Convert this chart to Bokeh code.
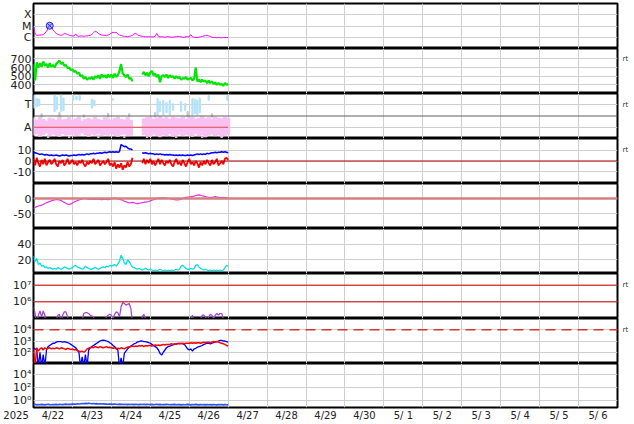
import numpy as np
from bokeh.plotting import figure
from bokeh.layouts import column
from bokeh.models import Range1d, FixedTicker, Span, LinearAxis, LogAxis
from bokeh.embed import file_html
from bokeh.resources import INLINE

nan = float("nan")

# ---------------- time axis ----------------
day_labels = ["4/22", "4/23", "4/24", "4/25", "4/26", "4/27", "4/28", "4/29",
              "4/30", "5/ 1", "5/ 2", "5/ 3", "5/ 4", "5/ 5", "5/ 6"]
year_label = "2025"
hours = list(range(121))          # hourly samples from 4/22 00UT
hours2 = list(range(0, 121, 2))   # 2-hourly samples

# ---------------- panel 1: X-ray flux (1e-6 W/m2 units) ----------------
xray_flux = [8, 2.0, 1.5, 1.5, 1.6, 1.6, 1.7, 2.2, 3.5, 6.0, 10.5, 8.0,
             4.5, 3.0, 2.2, 1.8, 1.6, 1.5, 1.6, 2.2, 2.0, 1.8, 1.5, 1.4,
             1.3, 1.3, 2.0, 1.3, 1.2, 1.3, 1.3, 1.2, 1.3, 1.3, 1.4, 1.5,
             1.8, 2.5, 3.5, 3.0, 2.2, 1.8, 1.6, 1.5, 1.5, 1.4, 1.6, 1.8,
             2.4, 2.8, 2.6, 2.8, 2.0, 1.6, 1.4, 1.3, 1.2, 1.2, 1.1, 1.2,
             1.3, 1.5, 2.0, 2.2, 1.7, 1.4, 1.3, 1.2, 1.2, 1.1, 1.1, 1.1,
             1.1, 1.1, 1.1, 1.2, 2.2, 1.2, 1.1, 1.1, 1.1, 1.0, 1.1, 1.1,
             1.1, 1.0, 1.0, 1.1, 1.1, 1.2, 1.1, 1.1, 1.0, 1.0, 1.1, 1.1,
             1.1, 1.7, 1.1, 1.0, 0.95, 0.95, 1.0, 1.1, 1.2, 1.3, 1.4, 1.5,
             1.3, 1.2, 1.0, 0.95, 0.95, 0.9, 0.95, 0.9, 0.9, 0.95, 0.95, 0.95, 0.95]
xray_ticks = [1, 10, 100]
xray_labels = ["C", "M", "X"]

# ---------------- panel 2: solar wind speed ----------------
sw_speed = [640, 450, 660, 600, 650, 610, 670, 620, 640, 600, 650, 610,
            630, 600, 640, 660, 680, 640, 660, 620, 630, 590, 600, 570,
            580, 550, 560, 530, 540, 500, 510, 470, 490, 460, 480, 470,
            490, 460, 500, 480, 510, 470, 520, 490, 510, 480, 520, 490,
            520, 480, 530, 490, 510, 560, 640, 530, 510, 490, 520, 470,
            480, 440, nan, nan, nan, nan, nan, 520, 550, 510, 540, 500,
            540, 560, 510, 530, 490, 520, 430, 500, 510, 490, 520, 480,
            510, 490, 500, 470, 500, 480, 490, 460, 480, 470, 490, 460,
            470, 480, 450, 470, 600, 440, 460, 430, 460, 440, 450, 420,
            450, 420, 440, 410, 430, 400, 420, 400, 410, 390, 420, 400, 410]
speed_ticks = [400, 500, 600, 700]

# ---------------- panel 3: IMF sector (A = away, T = toward) ----------------
sector_ticks = [1, 3]
sector_labels = ["A", "T"]
away_hi = [1.85, 1.6, 1.9, 1.7, 1.55, 1.8, 1.75, 1.6, 1.9, 1.65, 1.7, 1.85,
           1.6, 1.75, 1.9, 1.55, 1.7, 1.8, 1.65, 1.9, 1.7, 1.6, 1.85, 1.75,
           1.6, 1.8, 1.9, 1.7, 1.65, 1.85, 1.6, nan, nan, nan, 1.75, 1.85,
           1.9, 1.7, 1.8, 1.95, 1.75, 1.85, 1.7, 1.9, 1.8, 1.75, 1.9, 1.7,
           1.85, 1.9, 1.7, 1.8, 1.95, 1.75, 1.85, 1.7, 1.9, 1.8, 1.75, 1.9,
           1.8]
away_lo = [0.3, 0.45, 0.2, 0.35, 0.5, 0.25, 0.4, 0.3, 0.2, 0.45, 0.3, 0.35,
           0.4, 0.25, 0.3, 0.5, 0.35, 0.2, 0.4, 0.3, 0.45, 0.25, 0.35, 0.3,
           0.45, 0.3, 0.2, 0.35, 0.4, 0.25, 0.3, nan, nan, nan, 0.35, 0.25,
           0.2, 0.4, 0.3, 0.15, 0.35, 0.25, 0.45, 0.2, 0.3, 0.4, 0.25, 0.35,
           0.3, 0.2, 0.45, 0.25, 0.35, 0.15, 0.3, 0.4, 0.25, 0.35, 0.2, 0.3,
           0.35]
toward_t = [0.5, 2, 3.5, 13, 14.5, 17, 18.5, 24.5, 26.5, 28.5, 36, 37.5, 49,
            76.5, 78, 80, 82, 84, 86, 91, 93.5, 98, 99.5, 101, 102.5, 108, 119.5]
toward_lo = [2.7, 2.85, 2.9, 2.4, 2.6, 2.4, 2.5, 3.4, 3.45, 3.4, 2.7, 2.9, 3.4,
             2.1, 2.4, 2.1, 2.3, 2.1, 2.5, 2.4, 2.5, 2.1, 2.2, 2.1, 2.3, 3.4, 3.4]
toward_hi = [3.85, 3.55, 3.5, 3.85, 3.7, 3.85, 3.6, 3.8, 3.75, 3.8, 3.5, 3.4, 3.55,
             3.55, 3.3, 3.4, 3.2, 3.4, 3.1, 3.3, 3.1, 3.55, 3.5, 3.4, 3.6, 3.8, 3.8]
mixed_t = [5, 9, 16, 22, 31, 40, 46, 56, 59, 70, 75, 88, 95, 104, 110, 116]
mixed_lo = [1.9, 0.05, 1.95, 0.0, 1.9, 0.05, 1.9, 0.0, 1.95, 0.05, 1.9, 0.0, 1.95, 0.05, 1.9, 0.0]
mixed_hi = [2.2, 0.25, 2.3, 0.2, 2.1, 0.3, 2.25, 0.2, 2.2, 0.2, 2.3, 0.25, 2.4, 0.2, 2.2, 0.3]

# ---------------- panel 4: IMF Bt / Bz (nT) ----------------
imf_bt = [8, 7.5, 7, 6.5, 6, 6.5, 6, 5.5, 6, 5.5, 5, 5.5,
          5, 5, 5.5, 5, 4.5, 5, 5.5, 5, 5.5, 5, 4.5, 5,
          5, 5.5, 5, 5.5, 6, 5.5, 6, 5.5, 6, 6.5, 6, 6.5,
          6.5, 7, 6.5, 7, 7, 7.5, 7, 7.5, 8, 7.5, 8, 8.5,
          8, 8.5, 8, 8.5, 8, 8.5, 15, 14, 13, 13.5, 12, 11,
          11, 10, nan, nan, nan, nan, nan, 7.5, 7, 7.5, 7, 6.5,
          7, 6.5, 6.5, 6, 6.5, 6, 6.5, 6, 6, 5.5, 6, 5.5,
          6, 5.5, 5.5, 5, 5.5, 5, 5.5, 5, 5.5, 5, 5, 5.5,
          5, 5.5, 5, 5.5, 6, 6.5, 6, 6.5, 6, 6.5, 6, 7,
          6.5, 7, 7.5, 7.5, 8, 7.5, 8, 8, 8.5, 8, 8.5, 8, 7.5]
imf_bz = [2, -4, 3, -2, -5, 1, -3, 2, -4, -1, 1, -3,
          -1, 2, -3, -5, 0, -2, 1, -4, -2, 2, -3, -1,
          1, -3, -1, -4, 0, -2, 1, -3, -5, -1, -3, 0,
          -2, 2, -3, -1, 1, -4, -2, 0, -3, -1, 2, -4,
          -2, -5, -1, -7, -3, -6, -2, -8, -4, -6, -1, -5,
          -3, 3, nan, nan, nan, nan, nan, -2, 2, -3, 1, -2,
          2, -3, 0, -4, -1, 2, -3, 1, -2, -4, 0, -2,
          1, -3, -5, -1, 2, -3, -1, -4, 1, -2, -5, -1,
          2, -3, -1, -4, 0, -2, -6, -1, -4, 0, -3, 1,
          -2, -4, 1, -3, -1, 2, -4, -2, 0, -3, 2, 3, 1]
imf_ticks = [-10, 0, 10]
imf_labels = ["-10", "0", "10"]

# ---------------- panel 5: Dst (nT) ----------------
dst = [-34, -30, -27, -25, -24, -22, -20, -17, -14, -12, -10, -8,
       -6, -5, -4, -4, -5, -7, -10, -13, -16, -19, -20, -18,
       -15, -12, -9, -7, -5, -3, -1, 0, 0, -1, -2, -1,
       -2, -3, -2, -1, -2, -3, -4, -3, -2, -3, -4, -2,
       -1, 0, 1, 0, -1, -2, -4, -6, -9, -11, -13, -15,
       -14, -13, -14, -16, -17, -16, -15, -14, -13, -12, -11, -10,
       -8, -6, -4, -2, 0, 1, 1, 2, 1, 2, 1, 0,
       0, -1, -2, -4, -5, -5, -4, -2, 0, 2, 4, 5,
       5, 6, 7, 8, 10, 11, 12, 11, 9, 8, 6, 5,
       4, 3, 4, 5, 6, 5, 4, 3, 3, 4, 3, 2, 2]
dst_ticks = [-50, 0]
dst_labels = ["-50", "0"]

# ---------------- panel 6 ----------------
p6_values = [25, 18, 22, 14, 16, 12, 13, 10, 11, 9, 10, 9,
             8, 9, 8, 10, 9, 8, 9, 11, 10, 9, 8, 9,
             10, 12, 13, 11, 10, 9, 8, 9, 12, 10, 9, 8,
             8, 9, 10, 9, 8, 9, 10, 11, 10, 12, 11, 13,
             12, 13, 14, 12, 15, 18, 26, 22, 16, 14, 20, 18,
             14, 11, 10, 9, 8, 9, 8, 7, 8, 9, 8, 7,
             8, 7, 6, 7, 6, 7, 8, 7, 6, 7, 6, 7,
             6, 7, 6, 7, 8, 7, 8, 12, 13, 11, 9, 8,
             8, 9, 8, 9, 13, 14, 11, 9, 8, 7, 8, 7,
             6, 7, 6, 7, 6, 7, 6, 7, 6, 7, 10, 13, 12]
p6_ticks = [20, 40]

# ---------------- panel 7: electron flux (log10) ----------------
e_flux_log10 = [5.7, 5.3, 4.6, 5.2, 5.45, 5.1, 5.45, 5.2, 4.6, 4.5, 4.5, 4.5,
                4.5, 4.5, 4.8, 5.2, 5.25, 4.8, 5.2, 5.4, 5.4, 5.1, 4.6, 4.5,
                4.5, 4.5, 4.5, 4.5, 4.5, 4.5, 4.9, 5.3, 5.35, 5.35, 5.3, 5.2,
                5.15, 5.1, 4.8, 4.5, 4.5, 4.5, 4.5, 4.5, 4.9, 5.1, 5.2, 5.25,
                5.2, 5.0, 5.25, 5.4, 5.35, 5.1, 5.7, 5.96, 5.9, 5.8, 5.85, 5.9,
                5.6, 4.8, 4.5, 4.5, 4.5, 4.5, 4.5, 5.1, 5.25, 5.0, 4.5, 4.5,
                4.5, 4.5, 4.5, 4.5, 4.5, 4.5, 4.5, 4.5, 4.5, 4.5, 4.5, 4.5,
                4.5, 4.5, 4.5, 4.5, 4.5, 4.5, 4.5, 4.5, 4.5, 4.5, 4.5, 4.5,
                4.5, 5.0, 5.2, 4.8, 4.5, 4.5, 4.5, 5.0, 5.2, 5.2, 5.1, 4.9,
                5.1, 5.25, 5.2, 5.0, 5.2, 5.3, 5.2, 5.3, 5.3, 5.0, 4.6, 4.5, 4.5]
e_ticks = [1e6, 1e7]
e_labels = ["10\u2076", "10\u2077"]

# ---------------- panel 8: two flux series (log10) ----------------
f8_blue_log10 = [2.4, 2.3, 2.2, 0.7, 2.0, 0.7, 1.8, 0.7, 2.2, 2.5, 2.6, 2.7,
                 2.8, 2.8, 2.9, 2.95, 2.95, 2.95, 2.9, 2.95, 2.9, 2.85, 2.8, 2.7,
                 2.6, 2.5, 2.4, 2.2, 2.0, 0.7, 1.6, 0.7, 1.8, 0.7, 2.2, 2.4,
                 2.5, 2.6, 2.7, 2.8, 2.9, 3.0, 3.05, 3.08, 3.05, 3.0, 2.95, 2.85,
                 2.75, 2.6, 2.5, 2.35, 2.2, 0.7, 1.5, 0.7, 1.9, 2.1, 2.3, 2.45,
                 2.55, 2.65, 2.75, 2.8, 2.9, 2.95, 3.0, 3.0, 2.95, 2.95, 2.9, 2.85,
                 2.8, 2.7, 2.6, 2.5, 2.4, 2.2, 1.9, 1.75, 2.0, 2.2, 2.4, 2.5,
                 2.55, 2.6, 2.65, 2.7, 2.75, 2.8, 2.75, 2.8, 2.75, 2.7, 2.5, 2.3,
                 2.2, 2.3, 2.1, 2.3, 2.35, 2.45, 2.5, 2.55, 2.6, 2.7, 2.75, 2.8,
                 2.8, 2.75, 2.8, 2.85, 2.9, 2.95, 3.0, 3.05, 3.05, 3.0, 3.0, 2.95, 2.9]
f8_red_log10 = [2.3, 0.7, 2.4, 2.1, 2.3, 2.4, 2.2, 2.4, 2.3, 2.35, 2.4, 2.3,
                2.35, 2.3, 2.4, 2.35, 2.3, 2.4, 2.35, 2.3, 2.25, 2.35, 2.3, 2.25,
                2.3, 2.2, 2.25, 2.15, 2.1, 2.05, 2.1, 2.0, 2.1, 2.3, 2.35, 2.4,
                2.45, 2.4, 2.5, 2.45, 2.4, 2.5, 2.45, 2.4, 2.45, 2.5, 2.4, 2.45,
                2.4, 2.35, 2.4, 2.3, 2.35, 2.3, 2.4, 2.35, 2.3, 2.4, 2.45, 2.5,
                2.5, 2.55, 2.5, 2.55, 2.5, 2.6, 2.55, 2.6, 2.5, 2.6, 2.55, 2.6,
                2.6, 2.55, 2.6, 2.65, 2.6, 2.65, 2.6, 2.65, 2.7, 2.65, 2.7, 2.7,
                2.7, 2.75, 2.7, 2.75, 2.7, 2.75, 2.8, 2.75, 2.8, 2.75, 2.8, 2.8,
                2.8, 2.85, 2.8, 2.85, 2.8, 2.85, 2.85, 2.8, 2.85, 2.9, 2.85, 2.9,
                2.9, 2.85, 2.9, 2.95, 2.9, 2.95, 2.9, 2.85, 2.8, 2.75, 2.7, 2.6, 2.55]
f8_ticks = [1e2, 1e3, 1e4]
f8_labels = ["10\u00b2", "10\u00b3", "10\u2074"]
f8_threshold = 1e4

# ---------------- panel 9 ----------------
p9_values = [0.22, 0.25, 0.2, 0.23, 0.21, 0.24, 0.22, 0.2, 0.23, 0.25, 0.22, 0.21,
             0.23, 0.22, 0.24, 0.21, 0.25, 0.23, 0.22, 0.24, 0.26, 0.23, 0.25, 0.24,
             0.26, 0.28, 0.25, 0.3, 0.27, 0.29, 0.32, 0.3, 0.34, 0.31, 0.35, 0.32,
             0.3, 0.33, 0.29, 0.31, 0.28, 0.3, 0.27, 0.29, 0.26, 0.28, 0.25, 0.27,
             0.26, 0.24, 0.27, 0.25, 0.23, 0.26, 0.24, 0.25, 0.23, 0.24, 0.22, 0.25,
             0.23, 0.24, 0.22, 0.25, 0.23, 0.22, 0.24, 0.23, 0.25, 0.22, 0.24, 0.23,
             0.22, 0.24, 0.21, 0.23, 0.25, 0.22, 0.24, 0.21, 0.23, 0.22, 0.24, 0.23,
             0.21, 0.23, 0.22, 0.24, 0.21, 0.23, 0.22, 0.2, 0.23, 0.21, 0.22, 0.24,
             0.22, 0.2, 0.23, 0.21, 0.24, 0.22, 0.2, 0.23, 0.21, 0.22, 0.2, 0.23,
             0.21, 0.22, 0.2, 0.23, 0.21, 0.2, 0.22, 0.21, 0.23, 0.2, 0.22, 0.21, 0.2]
p9_ticks = [1, 1e2, 1e4]
p9_labels = ["10\u2070", "10\u00b2", "10\u2074"]

# ---------------- layout / style ----------------
FONT = "DejaVu Sans"
TXT = "#222222"
GRID = "#cfcfcf"
LEFT = 33
FRAME_W = 584
RIGHT = 17
W = LEFT + FRAME_W + RIGHT
TOP = 3
FRAME_HS = [45, 45, 45, 45, 45, 45, 45, 45, 44]
AXIS_H = 16

n_days = len(day_labels)
x_range = Range1d(0, n_days)
day_edges = list(range(n_days + 1))
t = np.array(hours) / 24.0
t2 = np.array(hours2) / 24.0
NBSP = "\u00a0"


def style_axis(ax, size="11px", standoff=2):
    ax.axis_line_color = None
    ax.major_tick_line_color = None
    ax.minor_tick_line_color = None
    ax.major_tick_out = 0
    ax.major_tick_in = 0
    ax.minor_tick_out = 0
    ax.minor_tick_in = 0
    ax.major_label_text_font = FONT
    ax.major_label_text_font_size = size
    ax.major_label_text_color = TXT
    ax.major_label_standoff = standoff


def panel(idx, y0, y1, ticks, labels=None, log=False, rt=None):
    first = idx == 0
    last = idx == len(FRAME_HS) - 1
    fh = FRAME_HS[idx]
    p = figure(width=W, height=fh + (TOP if first else 0) + (AXIS_H if last else 0),
               x_range=x_range, y_range=Range1d(y0, y1),
               y_axis_type="log" if log else "linear",
               output_backend="svg", toolbar_location=None,
               min_border_left=LEFT, min_border_right=RIGHT,
               min_border_top=TOP if first else 0,
               min_border_bottom=AXIS_H if last else 0)
    p.outline_line_color = "black"
    p.outline_line_width = 2
    p.background_fill_color = "white"
    p.border_fill_color = "white"
    p.xgrid.ticker = FixedTicker(ticks=day_edges)
    p.xgrid.grid_line_color = GRID
    p.ygrid.grid_line_color = GRID
    ya = p.yaxis[0]
    ya.ticker = FixedTicker(ticks=list(ticks))
    if labels is not None:
        ya.major_label_overrides = {tk: lb for tk, lb in zip(ticks, labels)}
    style_axis(ya)
    if rt is not None:
        AxisCls = LogAxis if log else LinearAxis
        ra = AxisCls(ticker=FixedTicker(ticks=[rt]), major_label_overrides={rt: "rt"})
        style_axis(ra, size="7px", standoff=5)
        ra.major_label_text_color = "#333333"
        p.add_layout(ra, "right")
    xa = p.xaxis[0]
    if last:
        year_pos = 0.001
        centers = [i + 0.5 for i in range(n_days)]
        xa.ticker = FixedTicker(ticks=[year_pos] + centers)
        overrides = {c: lb for c, lb in zip(centers, day_labels)}
        overrides[year_pos] = year_label + NBSP * 11
        xa.major_label_overrides = overrides
        style_axis(xa, size="10px", standoff=2)
    else:
        xa.visible = False
    return p


figs = []

# 1 X-ray
p1 = panel(0, 0.1, 1000, xray_ticks, xray_labels, log=True)
p1.line(t, xray_flux, line_color="#ff00ff", line_width=1)
ipk = int(np.nanargmax(xray_flux[1:])) + 1
p1.scatter([t[ipk]], [xray_flux[ipk]], marker="circle_x", size=7,
           line_color="#2020ff", fill_color="#b8b8ff", line_width=1)
figs.append(p1)

# 2 speed
p2 = panel(1, 300, 820, speed_ticks, rt=speed_ticks[-1])
p2.line(t, sw_speed, line_color="#00e600", line_width=2.2)
figs.append(p2)

# 3 sector
p3 = panel(2, 0, 4, sector_ticks, sector_labels, rt=sector_ticks[-1])
p3.add_layout(Span(location=2, dimension="width", line_color="#606060", line_width=1))
p3.vbar(x=np.array(mixed_t) / 24.0, width=0.8 / 24, bottom=mixed_lo, top=mixed_hi,
        color="#c8c8c8")
p3.vbar(x=np.array(toward_t) / 24.0, width=0.8 / 24, bottom=toward_lo, top=toward_hi,
        color="#b4e2f8")
p3.vbar(x=t2, width=2 / 24, bottom=away_lo, top=away_hi, color="#f9c0f2")
p3.line([t[0], t[-1]], [sector_ticks[0], sector_ticks[0]], line_color="#e04848", line_width=1)
figs.append(p3)

# 4 IMF
p4 = panel(3, -20.5, 20.5, imf_ticks, imf_labels, rt=imf_ticks[-1])
p4.add_layout(Span(location=0, dimension="width", line_color="#b00000", line_width=1))
p4.line(t, imf_bt, line_color="#0000ff", line_width=1.5)
p4.line(t, imf_bz, line_color="#ff0000", line_width=1.8)
figs.append(p4)

# 5 Dst
p5 = panel(4, -100, 50, dst_ticks, dst_labels)
p5.add_layout(Span(location=0, dimension="width", line_color="#d48080", line_width=2.5))
p5.line(t, dst, line_color="#e030e0", line_width=1.2)
figs.append(p5)

# 6
p6 = panel(5, 2.5, 60.5, p6_ticks)
p6.line(t, p6_values, line_color="#00e0e0", line_width=1.3)
figs.append(p6)

# 7 electron flux
p7 = panel(6, 1e5, 10 ** 7.7, e_ticks, e_labels, log=True, rt=e_ticks[-1])
for lv in e_ticks:
    p7.add_layout(Span(location=lv, dimension="width", line_color="#cc0000", line_width=1))
p7.line(t, 10 ** np.array(e_flux_log10), line_color="#a040d0", line_width=1.2)
figs.append(p7)

# 8
p8 = panel(7, 10, 1e5, f8_ticks, f8_labels, log=True, rt=f8_threshold)
p8.add_layout(Span(location=f8_threshold, dimension="width", line_color="#dd3030",
                   line_width=1.5, line_dash="10 6"))
p8.line(t, 10 ** np.array(f8_blue_log10), line_color="#0000ff", line_width=1.3)
p8.line(t, 10 ** np.array(f8_red_log10), line_color="#ff0000", line_width=1.5)
figs.append(p8)

# 9
p9 = panel(8, 10 ** -1.1, 10 ** 5.65, p9_ticks, p9_labels, log=True)
p9.line(t, p9_values, line_color="#3050ff", line_width=1.6)
figs.append(p9)

layout = column(*figs, spacing=0)
open("out.html", "w").write(file_html(layout, INLINE))
